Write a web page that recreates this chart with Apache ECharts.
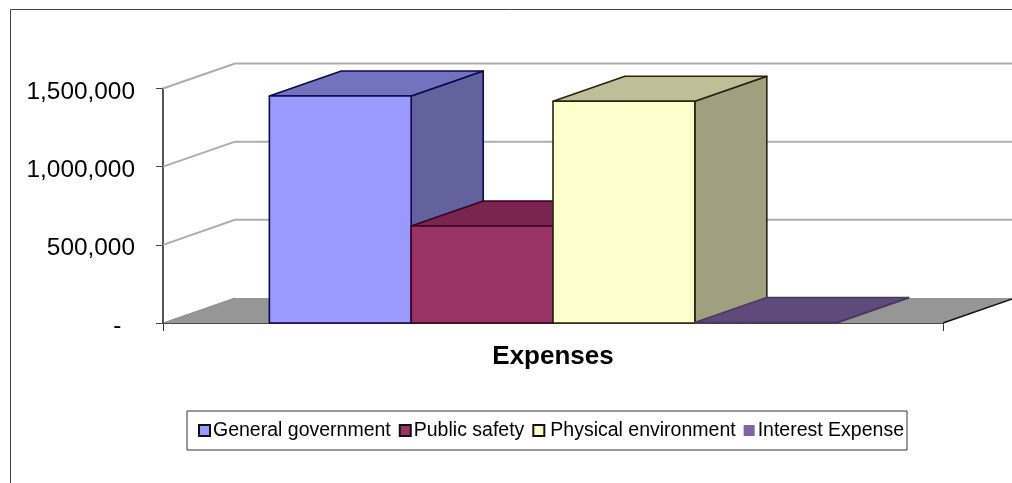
<!DOCTYPE html>
<html><head><meta charset="utf-8">
<style>html,body{margin:0;padding:0;background:#fff}#c{width:1012px;height:483px}</style>
<script src="https://cdn.jsdelivr.net/npm/echarts@6/dist/echarts.min.js"></script>
</head><body><div id="c"></div>
<script>
const categories = ['Expenses'];
const seriesNames = ['General government','Public safety','Physical environment','Interest Expense'];
const generalGovernment = [1452000];
const publicSafety = [620000];
const physicalEnvironment = [1418000];
const interestExpense = [3000];
const tickValues = [0,500000,1000000,1500000];

const allValues = [generalGovernment,publicSafety,physicalEnvironment,interestExpense];
const frontColors = ['#9999FF','#993366','#FFFFCC','#8064A2'];
const topColors = ['#7272BE','#7A2450','#BEBE98','#604A7B'];
const sideColors = ['#62629F','#6A2046','#A0A07E','#54406C'];
const edgeColors = ['#0A0A50','#3A0020','#26260F','#4A3A60'];
const legendTextPads = [[0,0,0,-2],[0,0,0,-2],[0,1.5,0,1],[0,0,0,-2]];
const DX = 72, DY = -25, SLOTS = 5.5, GAP = 0.75;

function poly(pts, fill, stroke, w){
  return {type:'polygon',shape:{points:pts},style:{fill:fill,stroke:stroke,lineWidth:w,lineJoin:'round'}};
}
function wallItem(params, api){
  const v = api.value(1);
  const left = api.coord([0,v]);
  const band = api.size([1,0])[0];
  const x0 = left[0]-band/2, x1 = x0+band, y = left[1];
  const children = [];
  if(v===0){
    children.push(poly([[x0,y],[x1,y],[x1+DX,y+DY],[x0+DX,y+DY]],'#969696','none',0));
    children.push({type:'line',shape:{x1:x0,y1:y,x2:x0+DX,y2:y+DY},style:{stroke:'#8a8a8a',lineWidth:1}});
    children.push({type:'line',shape:{x1:x1,y1:y,x2:x1+DX,y2:y+DY},style:{stroke:'#111',lineWidth:1.5}});
  } else {
    children.push({type:'polyline',shape:{points:[[x0,y],[x0+DX,y+DY],[x1+DX,y+DY]]},style:{fill:'none',stroke:'#ADADAD',lineWidth:2}});
  }
  return {type:'group',children:children};
}
function barItem(i){
  return function(params, api){
    const top = api.coord([0,api.value(1)]);
    const base = api.coord([0,0]);
    const band = api.size([1,0])[0];
    const w = band/SLOTS;
    const xl = top[0]-band/2 + w*GAP + i*w, xr = xl+w, yt = top[1], yb = base[1];
    const e = edgeColors[i];
    return {type:'group',children:[
      poly([[xr,yb],[xr+DX,yb+DY],[xr+DX,yt+DY],[xr,yt]],sideColors[i],e,1.6),
      poly([[xl,yt],[xr,yt],[xr+DX,yt+DY],[xl+DX,yt+DY]],topColors[i],e,1.6),
      poly([[xl,yb],[xr,yb],[xr,yt],[xl,yt]],frontColors[i],e,1.6)
    ]};
  };
}
const chart = echarts.init(document.getElementById('c'),null,{renderer:'canvas'});
const series = [{
  type:'custom',name:'walls',silent:true,clip:false,z:1,
  encode:{x:0,y:1},
  data:tickValues.map(v=>[0,v]),
  renderItem:wallItem
}];
seriesNames.forEach((n,i)=>{
  series.push({
    type:'custom',name:n,clip:false,z:2+i,
    encode:{x:0,y:1},
    itemStyle:{color:frontColors[i]},
    data:allValues[i].map((v,k)=>[k,v]),
    renderItem:barItem(i)
  });
});
chart.setOption({
  animation:false,
  textStyle:{fontFamily:'"Liberation Sans",Arial,sans-serif'},
  grid:{left:163,right:69,top:88.5,bottom:160,containLabel:false},
  xAxis:{type:'category',data:categories,
    axisLine:{lineStyle:{color:'#111',width:1.5}},
    axisTick:{show:true,length:8,lineStyle:{color:'#333',width:1}},
    axisLabel:{show:false},
    splitLine:{show:false},
    name:'Expenses',nameLocation:'middle',nameGap:21,
    nameTextStyle:{color:'#000',fontSize:26,fontWeight:'bold',fontFamily:'"Liberation Sans",Arial,sans-serif'}
  },
  yAxis:{type:'value',min:0,max:1500000,interval:500000,
    axisLine:{show:true,lineStyle:{color:'#555',width:2}},
    axisTick:{show:true,length:7,lineStyle:{color:'#444',width:1}},
    splitLine:{show:false},
    axisLabel:{color:'#000',fontSize:24.4,margin:28,verticalAlign:'top',lineHeight:7,fontFamily:'"Liberation Sans",Arial,sans-serif',
      formatter:v=>v===0?'-\u00a0\u00a0':v.toLocaleString('en-US')}
  },
  legend:{data:seriesNames.map((n,i)=>({name:n,icon:'rect',
      itemStyle:{borderColor:n==='Interest Expense'?'transparent':'#111',borderWidth:n==='Interest Expense'?0:2},
      textStyle:{padding:legendTextPads[i]}})),
    left:187,top:411,orient:'horizontal',
    itemWidth:11,itemHeight:11,itemGap:8,
    padding:[9.5,3,9.5,11],
    borderColor:'#333',borderWidth:1,backgroundColor:'#fff',
    selectedMode:false,
    textStyle:{color:'#000',fontSize:19.5,fontFamily:'"Liberation Sans",Arial,sans-serif'}
  },
  graphic:[{type:'polyline',silent:true,shape:{points:[[10.5,483],[10.5,9.5],[1012,9.5]]},style:{fill:'none',stroke:'#444',lineWidth:1}}],
  series:series
});
</script></body></html>
